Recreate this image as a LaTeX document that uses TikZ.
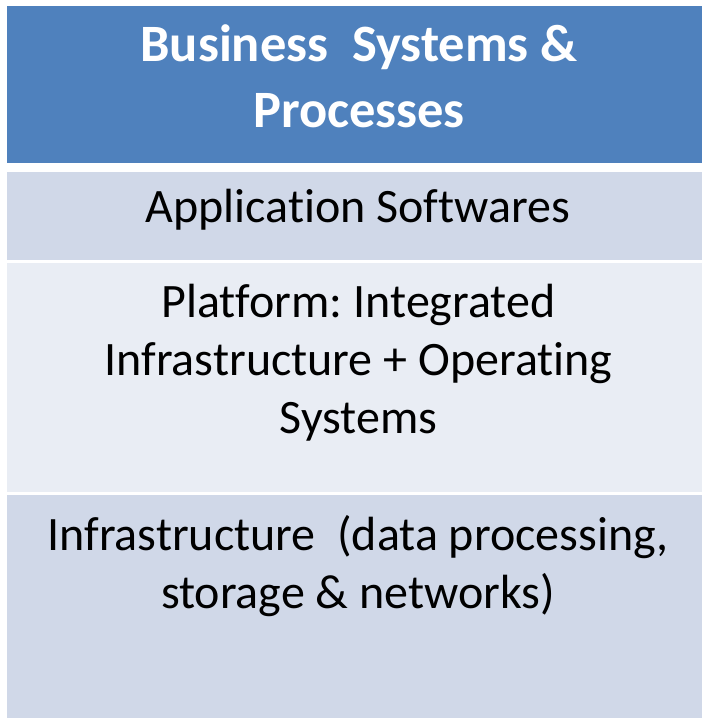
\documentclass[tikz,border=0pt]{standalone}
\usepackage{fontspec}
\setmainfont{Carlito}[Ligatures={NoCommon,NoRequired,NoContextual,NoRare,NoDiscretionary}]
\frenchspacing
\definecolor{hdrblue}{HTML}{4F81BD}
\definecolor{rowdark}{HTML}{D0D8E8}
\definecolor{rowlight}{HTML}{E9EDF4}
\tikzset{
  hdrtext/.style={anchor=base, align=center, inner sep=0pt, text=white,
    font=\fontsize{52.5}{66}\selectfont\bfseries},
  celltext/.style={anchor=base, align=center, inner sep=0pt, text=black,
    font=\fontsize{48}{58}\selectfont},
}
\begin{document}
\begin{tikzpicture}[x=1pt,y=-1pt]
\useasboundingbox[fill=white] (0,0) rectangle (702,718);
\fill[hdrblue] (7,6) rectangle (702,163);
\fill[rowdark] (7,172) rectangle (702,260);
\fill[rowlight] (7,263) rectangle (702,492);
\fill[rowdark] (7,495) rectangle (702,718);
\node[hdrtext] (hdr) at (359,127) {Business\ \ Systems \&\\Processes};
\node[celltext] (app) at (358,222) {Application Softwares};
\node[celltext] (plat) at (358.5,433) {Platform: Integrated\\Infrastructure + Operating\\Systems};
\node[celltext] (infra) at (358,608) {Infrastructure\ \ (data processing,\\storage \& networks)};
\end{tikzpicture}
\end{document}
